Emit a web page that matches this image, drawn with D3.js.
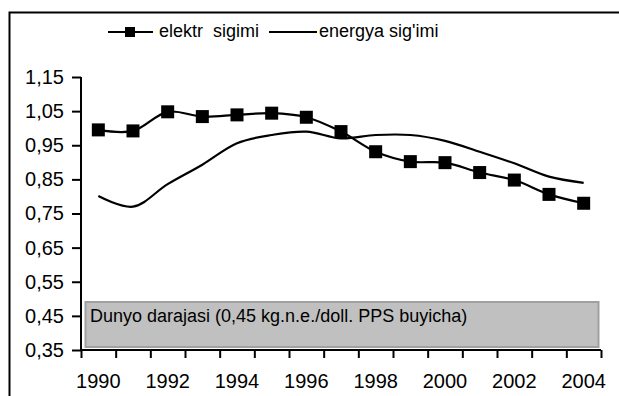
<!DOCTYPE html>
<html>
<head>
<meta charset="utf-8">
<script src="https://cdn.jsdelivr.net/npm/d3@7"></script>
<style>
  html, body { margin: 0; padding: 0; background: #fff; }
  svg { display: block; font-family: "Liberation Sans", Arial, sans-serif; }
  text { white-space: pre; }
</style>
</head>
<body>
<svg id="chart" width="619" height="396"></svg>
<script>
// Years on the category axis
const years = [1990, 1991, 1992, 1993, 1994, 1995, 1996, 1997, 1998, 1999, 2000, 2001, 2002, 2003, 2004];
// Electricity intensity (marked series)
const elektr = [0.995, 0.992, 1.048, 1.034, 1.039, 1.044, 1.032, 0.990, 0.931, 0.902, 0.899, 0.870, 0.848, 0.806, 0.780];
// Energy intensity (smooth line)
const energya = [0.801, 0.770, 0.836, 0.893, 0.956, 0.980, 0.990, 0.970, 0.980, 0.980, 0.963, 0.931, 0.897, 0.858, 0.840];
// Value axis ticks
const yTicks = [0.35, 0.45, 0.55, 0.65, 0.75, 0.85, 0.95, 1.05, 1.15];
// Labelled years
const xLabels = [1990, 1992, 1994, 1996, 1998, 2000, 2002, 2004];
const seriesNames = ["elektr  sigimi", "energya sig'imi"];
const worldNote = "Dunyo darajasi (0,45 kg.n.e./doll. PPS buyicha)";

const svg = d3.select("#chart");
const plotLeft = 81, plotRight = 601, plotTop = 77, plotBottom = 350;
const tickFont = 20, textFont = 18;

const fmt = d3.formatLocale({ decimal: ",", thousands: " ", grouping: [3], currency: ["", ""] }).format(".2f");

const x = d3.scaleBand().domain(years).range([plotLeft, plotRight]).padding(0);
const xEdge = d3.scaleLinear().domain([0, years.length]).range([plotLeft, plotRight]);
const y = d3.scaleLinear().domain([0.35, 1.15]).range([plotBottom, plotTop]);

// Outer frame
svg.append("rect")
  .attr("x", 9.5).attr("y", 12.5)
  .attr("width", 700).attr("height", 500)
  .attr("fill", "none").attr("stroke", "#000").attr("stroke-width", 2);

// World level note box
const box = svg.append("g");
box.append("rect")
  .attr("x", 85.5).attr("y", 302)
  .attr("width", plotRight - 2 - 86).attr("height", 45)
  .attr("fill", "#c0c0c0").attr("stroke", "#a0a0a0").attr("stroke-width", 2);
box.append("text")
  .attr("x", 90).attr("y", 322)
  .attr("font-size", textFont).attr("fill", "#000")
  .text(worldNote);

// Y axis
const yAxis = svg.append("g")
  .attr("transform", `translate(${plotLeft},0)`)
  .call(d3.axisLeft(y).tickValues(yTicks).tickFormat(fmt).tickSize(9).tickPadding(8));
yAxis.select(".domain").attr("stroke-width", 2).attr("d", `M0,${plotTop}V${plotBottom}`);
yAxis.selectAll(".tick line").attr("stroke-width", 2);
yAxis.selectAll("text").attr("font-size", tickFont).attr("font-family", "Liberation Sans, Arial, sans-serif").attr("fill", "#000");

// X axis: tick marks between categories
const xTicks = svg.append("g")
  .attr("transform", `translate(0,${plotBottom})`)
  .call(d3.axisBottom(xEdge).tickValues(d3.range(0, years.length + 1)).tickFormat("").tickSize(8));
xTicks.select(".domain").attr("stroke-width", 2).attr("d", `M${plotLeft},0H${plotRight}`);
xTicks.selectAll(".tick line").attr("stroke-width", 2);

// X axis: year labels centered in their categories
const xAxis = svg.append("g")
  .attr("transform", `translate(0,${plotBottom})`)
  .call(d3.axisBottom(x).tickValues(xLabels).tickSize(0).tickPadding(24));
xAxis.select(".domain").remove();
xAxis.selectAll("text").attr("font-size", tickFont).attr("font-family", "Liberation Sans, Arial, sans-serif").attr("fill", "#000");

const cx = d => x(d) + x.bandwidth() / 2;

// Energy intensity line
const lineSmooth = d3.line().x((d, i) => cx(years[i])).y(d => y(d)).curve(d3.curveCatmullRom.alpha(0.5));
svg.append("path")
  .attr("d", lineSmooth(energya))
  .attr("fill", "none").attr("stroke", "#000").attr("stroke-width", 2.2);

// Electricity intensity line with square markers
svg.append("path")
  .attr("d", lineSmooth(elektr))
  .attr("fill", "none").attr("stroke", "#000").attr("stroke-width", 2.2);
const ms = 13;
svg.append("g").selectAll("rect")
  .data(elektr)
  .join("rect")
  .attr("x", (d, i) => cx(years[i]) - ms / 2)
  .attr("y", d => y(d) - ms / 2)
  .attr("width", ms).attr("height", ms)
  .attr("fill", "#000");

// Legend
const legend = svg.append("g").attr("font-size", textFont);
const lg1 = legend.append("g");
lg1.append("line").attr("x1", 108).attr("x2", 153).attr("y1", 32).attr("y2", 32).attr("stroke", "#000").attr("stroke-width", 2);
lg1.append("rect").attr("x", 125).attr("y", 27).attr("width", 10).attr("height", 10).attr("fill", "#000");
lg1.append("text").attr("x", 159).attr("y", 37).text(seriesNames[0]);
const lg2 = legend.append("g");
lg2.append("line").attr("x1", 269).attr("x2", 317).attr("y1", 32).attr("y2", 32).attr("stroke", "#000").attr("stroke-width", 2);
lg2.append("text").attr("x", 319).attr("y", 37).text(seriesNames[1]);
</script>
</body>
</html>
